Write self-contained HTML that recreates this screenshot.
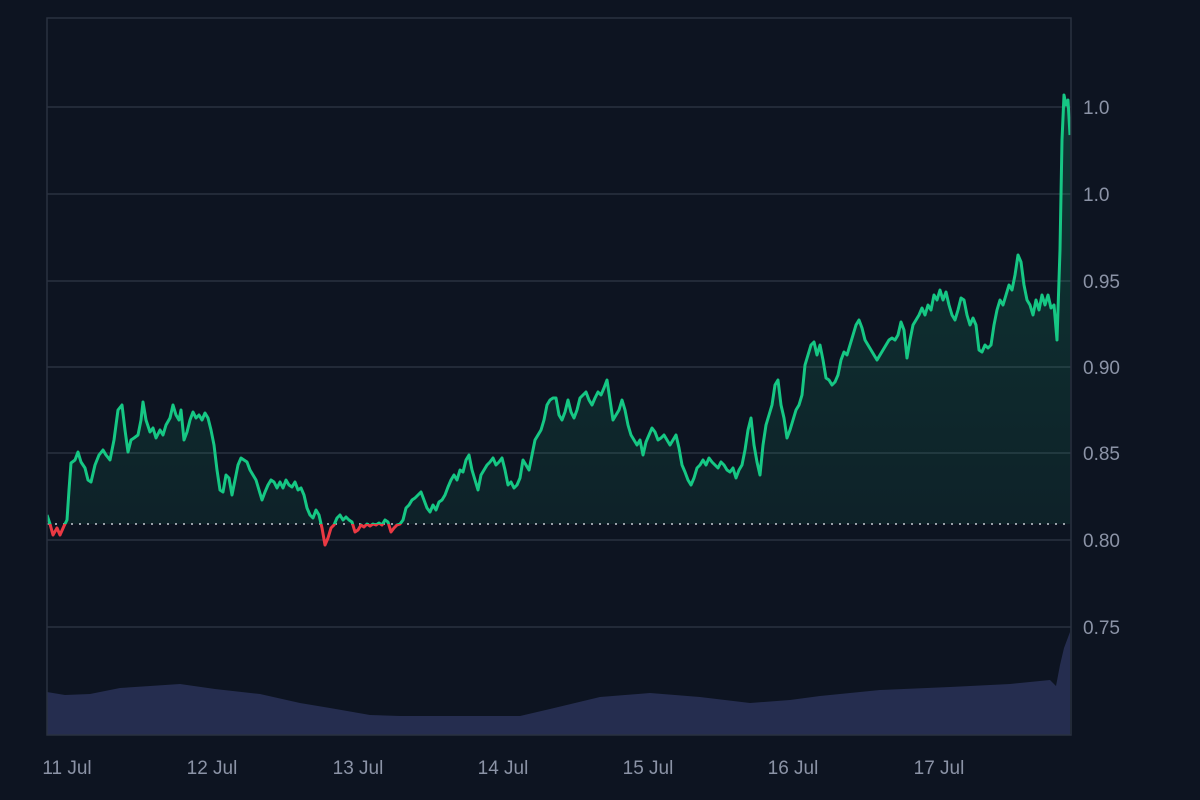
<!DOCTYPE html>
<html><head><meta charset="utf-8"><style>
html,body{margin:0;padding:0;background:#0d1421;}
svg{display:block}
text{font-family:"Liberation Sans",sans-serif;font-size:19px;fill:#8b93a6}
</style></head><body>
<svg id="s" width="1200" height="800" xmlns="http://www.w3.org/2000/svg">
<defs>
<linearGradient id="g" x1="0" y1="0" x2="0" y2="1"><stop offset="0" stop-color="#16c784" stop-opacity="0.2"/><stop offset="1" stop-color="#16c784" stop-opacity="0.07"/></linearGradient>
<clipPath id="ca"><rect x="47" y="0" width="1024" height="524"/></clipPath>
<clipPath id="cb"><rect x="47" y="524" width="1024" height="100"/></clipPath>
</defs>
<rect x="0" y="0" width="1200" height="800" fill="#0d1421"/>
<g stroke="#2a3140" stroke-width="1.5">
<line x1="47" y1="107" x2="1071" y2="107"/><line x1="47" y1="194" x2="1071" y2="194"/>
<line x1="47" y1="281" x2="1071" y2="281"/><line x1="47" y1="367" x2="1071" y2="367"/>
<line x1="47" y1="453" x2="1071" y2="453"/><line x1="47" y1="540" x2="1071" y2="540"/>
<line x1="47" y1="627" x2="1071" y2="627"/>
</g>
<polygon id="vol" fill="#252d4f"/>
<path id="fill" fill="url(#g)" clip-path="url(#ca)"/>
<line x1="47" y1="524" x2="1071" y2="524" stroke="#c8ccd4" stroke-width="1.5" stroke-dasharray="2,6"/>
<polyline id="lg" fill="none" stroke="#16c784" stroke-width="3" stroke-linejoin="round" clip-path="url(#ca)"/>
<polyline id="lr" fill="none" stroke="#ea3943" stroke-width="3" stroke-linejoin="round" clip-path="url(#cb)"/>
<rect x="47" y="18" width="1024" height="717" fill="none" stroke="#2a3140" stroke-width="1.5"/>
<text x="1083" y="114">1.0</text><text x="1083" y="201">1.0</text>
<text x="1083" y="288">0.95</text><text x="1083" y="374">0.90</text>
<text x="1083" y="460">0.85</text><text x="1083" y="547">0.80</text>
<text x="1083" y="634">0.75</text>
<g text-anchor="middle">
<text x="67" y="774">11 Jul</text><text x="212" y="774">12 Jul</text><text x="358" y="774">13 Jul</text>
<text x="503" y="774">14 Jul</text><text x="648" y="774">15 Jul</text><text x="793" y="774">16 Jul</text>
<text x="939" y="774">17 Jul</text>
</g>
</svg>
<script>
var p=[47,515,50,524,53,535,57,528,60,535,64,526,67,520,69,490,71,463,75,460,78,452,81,462,85,468,88,480,91,482,95,465,99,455,103,450,106,455,110,460,114,440,118,410,122,405,125,430,128,452,131,440,134,438,138,435,141,420,143,402,146,420,150,432,153,428,156,438,160,430,163,435,166,425,170,418,173,405,176,415,179,420,181,410,184,440,187,432,190,420,193,412,196,418,199,415,202,420,205,413,208,418,211,430,214,445,217,470,220,490,223,492,226,475,229,478,232,495,235,480,238,465,241,458,244,460,247,462,250,470,253,475,256,480,259,490,262,500,265,492,268,485,271,480,274,482,277,488,280,482,283,488,286,480,289,485,292,487,295,482,298,490,301,488,304,495,307,508,310,515,313,518,316,510,319,515,322,528,325,545,328,538,331,528,334,525,337,518,340,515,343,520,346,517,349,520,352,522,355,532,358,530,361,525,364,527,367,524,370,526,373,524,376,525,379,523,382,525,385,520,388,522,391,532,394,528,397,525,400,524,403,520,406,508,409,505,412,500,415,498,418,495,421,492,424,500,427,508,430,512,433,505,436,510,439,502,442,500,445,495,448,487,451,480,454,475,457,480,460,470,463,472,466,460,469,455,472,470,475,480,478,490,481,475,484,470,487,465,490,462,493,458,496,465,499,462,502,458,505,470,508,485,511,482,514,488,517,485,520,478,523,460,526,465,529,470,532,455,535,440,538,435,541,430,544,420,547,405,550,400,553,398,556,398,559,415,562,420,565,412,568,400,571,412,574,418,577,410,580,398,583,395,586,392,589,400,592,405,595,398,598,392,601,395,604,388,607,380,610,400,613,420,616,415,619,410,622,400,625,410,628,425,631,435,634,440,637,445,640,440,643,455,646,442,649,435,652,428,655,432,658,440,661,438,664,435,667,440,670,445,673,440,676,435,679,448,682,465,685,472,688,480,691,485,694,478,697,468,700,465,703,460,706,465,709,458,712,462,715,465,718,468,721,462,724,465,727,470,730,472,733,468,736,478,739,470,742,465,745,450,748,430,751,418,754,445,757,462,760,475,763,445,766,425,769,415,772,405,775,385,778,380,781,405,784,418,787,438,790,430,793,420,796,410,799,405,802,395,805,365,808,355,811,345,814,342,817,355,820,345,823,360,826,378,829,380,832,385,835,382,838,375,841,360,844,352,847,355,850,345,853,335,856,325,859,320,862,328,865,340,868,345,871,350,874,355,877,360,880,355,883,350,886,345,889,340,892,338,895,340,898,335,901,322,904,330,907,358,910,340,913,325,916,320,919,315,922,308,925,315,928,305,931,310,934,295,937,300,940,290,943,300,946,292,949,305,952,315,955,320,958,310,961,298,964,300,967,315,970,325,973,318,976,325,979,350,982,352,985,345,988,348,991,345,994,325,997,310,1000,300,1003,305,1006,295,1009,285,1012,290,1015,275,1018,255,1021,262,1024,285,1027,300,1030,305,1033,315,1036,300,1039,310,1042,295,1045,305,1048,295,1051,308,1054,305,1057,340,1060,250,1062,140,1064,95,1066,105,1068,100,1070,135];
var s=[];for(var i=0;i<p.length;i+=2)s.push(p[i]+","+p[i+1]);
var pts=s.join(" ");
document.getElementById("lg").setAttribute("points",pts);
document.getElementById("lr").setAttribute("points",pts);
document.getElementById("fill").setAttribute("d","M"+s.join(" L")+" L1070,524 L47,524 Z");
var v=[47,692,65,695,90,694,120,688,150,686,180,684,215,689,260,694,300,703,330,708,370,715,400,716,520,716,550,709,600,697,650,693,700,697,750,703,790,700,820,696,880,690,950,687,1010,684,1050,680,1056,686,1060,665,1064,648,1070,632];
var vs=["47,735"];for(var i=0;i<v.length;i+=2)vs.push(v[i]+","+v[i+1]);vs.push("1070,735");
document.getElementById("vol").setAttribute("points",vs.join(" "));
</script>
</body></html>
